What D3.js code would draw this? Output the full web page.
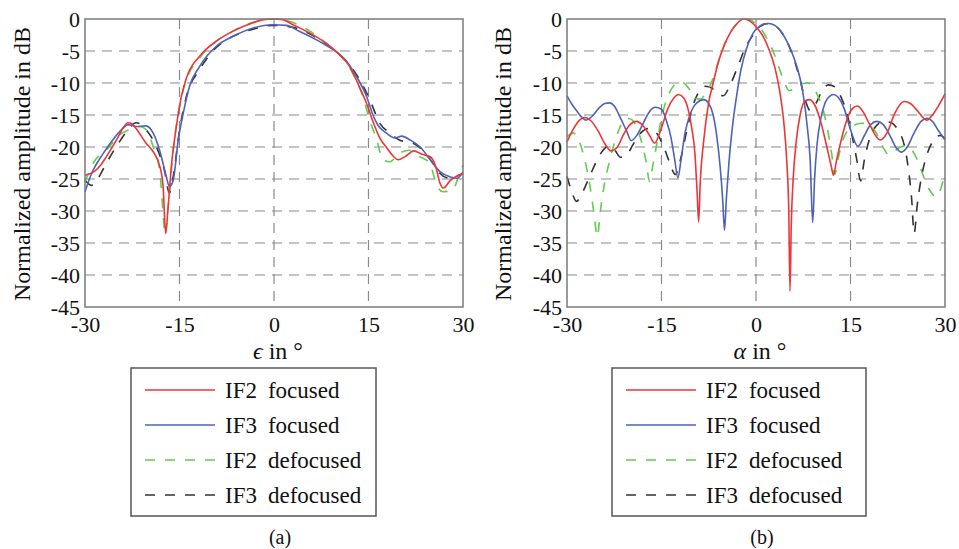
<!DOCTYPE html>
<html lang="en">
    <head>
        <meta charset="UTF-8" />
        <title>Normalized amplitude</title>
        <style>
            body { margin: 0; background: #fff; }
            svg text { fill: #111; }
        </style>
    </head>
    <body>
        <div class="chart"></div>

        <script src="https://d3js.org/d3.v7.min.js"></script>

        <script>
            // tick values shared by both panels
            const xTicks = [-30, -15, 0, 15, 30]
            const yTicks = [0, -5, -10, -15, -20, -25, -30, -35, -40, -45]

            const seriesNames = ['IF2 focused', 'IF3 focused', 'IF2 defocused', 'IF3 defocused']

            // (a) elevation cut, [angle, dB]
            const elevIF2Focused = [[-30,-24.4],[-28.5,-23.8],[-27.5,-22.8],[-26.6,-21.5],[-25,-18.9],[-23.8,-16.8],[-23.2,-16.2],[-22.5,-16.4],[-21.9,-17.1],[-20.3,-19.4],[-19.2,-20.7],[-18.1,-23.1],[-17.6,-26.2],[-17.2,-33.5],[-16.8,-29.3],[-16.3,-23.1],[-15.5,-16.8],[-14.7,-12.1],[-13.9,-9.2],[-11.8,-5.8],[-9.2,-3.5],[-6.5,-1.9],[-3.3,-0.6],[-1.7,-0.1],[0,0],[1.4,-0.1],[3,-0.9],[5.7,-2.2],[8.3,-3.8],[9.9,-5.1],[12,-7.4],[13.5,-10.5],[14.7,-13.2],[15.7,-16],[16.8,-18.6],[17.8,-20],[18.9,-21.4],[19.7,-22],[20.8,-21.5],[22.2,-20.6],[23.4,-21.1],[24.9,-21.6],[25.8,-23.5],[26.3,-25.5],[26.9,-26.4],[28,-25.2],[28.9,-24.6],[30,-24.2]]
            const elevIF3Focused = [[-30,-27],[-29.3,-25],[-28.7,-23.6],[-27.1,-21],[-25.6,-18.9],[-24,-17.1],[-23.2,-16.5],[-21.9,-16.8],[-20.3,-16.7],[-19.2,-17.8],[-18.1,-20.7],[-17.1,-24.6],[-16.6,-26.2],[-16,-25.2],[-15.2,-18.9],[-14.4,-14.7],[-13.4,-10.5],[-11.8,-7.4],[-9.2,-4.3],[-6.5,-2.7],[-3.3,-1.4],[-0.2,-0.9],[1.9,-1.0],[4,-1.9],[7.2,-3.5],[9.4,-4.8],[11.5,-6.6],[13.1,-9],[14.7,-12.1],[15.7,-15],[16.5,-16.6],[17.8,-17.8],[19.2,-18.6],[20.3,-18.3],[21.6,-18.9],[23.2,-20],[24.8,-22],[26.4,-23.9],[28,-24.7],[29.1,-24.9],[30,-23.9]]
            const elevIF2Defocused = [[-30,-25.5],[-28.7,-22.5],[-26.6,-20.5],[-24.5,-18.1],[-23,-17.3],[-21.3,-16.8],[-20.3,-17.3],[-19.2,-19.9],[-18.1,-24.1],[-17.6,-30.4],[-17.3,-33.8],[-16.8,-29.3],[-16,-20.5],[-14.9,-13.2],[-13.9,-9.5],[-11.8,-6.1],[-9.2,-3.5],[-6.5,-1.9],[-3.3,-0.5],[-0.2,0],[2.5,-0.4],[5.7,-1.9],[8.3,-3.8],[10.4,-5.6],[12.5,-8.5],[14.1,-12.1],[15.2,-15.8],[16.3,-18.9],[17.3,-22],[18.4,-22.3],[19.9,-21],[21.5,-20.5],[23.1,-21.5],[24.7,-22.5],[25.8,-25.9],[26.8,-27],[28.4,-26.7],[29.2,-24.9],[30,-22.8]]
            const elevIF3Defocused = [[-30,-25.2],[-29,-26],[-28,-25],[-26.6,-22.5],[-25,-19.9],[-23.4,-17.6],[-21.9,-16.2],[-20.3,-17.3],[-18.7,-19.9],[-17.4,-23.6],[-16.6,-27.2],[-16,-24.6],[-14.9,-16.8],[-13.9,-12.1],[-11.8,-7.9],[-9.2,-4.5],[-6.5,-2.7],[-3.3,-1.6],[-0.2,-1.0],[3,-1.3],[6.2,-2.6],[9.4,-4.8],[12,-7.2],[13.6,-9.5],[15.2,-12.6],[16.8,-16.3],[18.4,-17.8],[19.9,-18.9],[22.1,-19.4],[23.6,-20.5],[25.2,-22.5],[26.3,-24.1],[27.9,-24.9],[28.9,-24.6],[30,-24.1]]

            // (b) azimuth cut, [angle, dB]
            const azimIF2Focused = [[-30,-19.2],[-29,-17.2],[-28,-15.8],[-27.2,-15.4],[-26.2,-15.9],[-25,-17.6],[-24,-19.5],[-23,-20.6],[-22,-20],[-21,-18],[-20,-16.5],[-19,-16],[-18,-16.6],[-17,-18],[-16.1,-19.4],[-15,-17],[-14,-14],[-13,-12.3],[-12.3,-11.8],[-11.5,-12.3],[-10.8,-14],[-10.2,-17],[-9.7,-21],[-9.35,-27],[-9.1,-31.7],[-8.85,-25.5],[-8.3,-19],[-7.5,-13],[-6.8,-10],[-6,-6.8],[-5,-4],[-4,-2],[-3,-0.7],[-2,0],[-1,-0.3],[0,-1.2],[1,-2.5],[2,-4.6],[3,-7.6],[3.8,-11.5],[4.4,-16],[4.9,-22.5],[5.2,-30],[5.4,-42.5],[5.6,-32],[5.9,-25],[6.4,-19],[7,-15],[7.8,-12.8],[8.5,-12.6],[9.3,-13.4],[10.2,-15.8],[11.2,-19.8],[11.9,-22.8],[12.3,-24.4],[12.8,-22],[13.5,-19],[14.5,-15.5],[15.3,-14],[16.1,-13.6],[17,-14.5],[18,-16.4],[19.7,-18.9],[20.8,-17.8],[22,-14.8],[23.5,-12.9],[24.5,-13.2],[25.5,-14.2],[27.1,-15.8],[28,-15],[29,-13.5],[30,-11.7]]
            const azimIF3Focused = [[-30,-12],[-29.3,-13.2],[-28.5,-14.3],[-27.5,-15.5],[-27,-15.8],[-26,-15.2],[-25,-14],[-24,-13.2],[-23.2,-13.1],[-22.5,-13.6],[-21.5,-15.5],[-20.5,-17.6],[-19.8,-19],[-19,-18.3],[-18,-16.5],[-17,-14.6],[-16,-13.8],[-15,-14.1],[-14.2,-16],[-13.5,-18.5],[-12.9,-22],[-12.4,-24.8],[-11.9,-22],[-11.3,-18],[-10.5,-15],[-9.5,-13.2],[-8.3,-12.6],[-7.5,-13.2],[-6.8,-15],[-6.2,-18.5],[-5.7,-23],[-5.3,-28],[-5,-33],[-4.7,-28],[-4.3,-22.5],[-3.7,-16.5],[-3,-11.5],[-2.4,-8],[-1.5,-4.6],[-0.5,-2.3],[0.5,-1.2],[1.2,-0.8],[2,-0.7],[3,-1],[4,-2],[5,-3.7],[6,-6],[7,-9.3],[7.6,-12.5],[8.1,-16.5],[8.6,-22],[9,-31.8],[9.3,-25],[9.7,-19.5],[10.3,-15.5],[11,-13],[11.8,-12],[12.3,-11.8],[13,-12.2],[14,-14],[15,-17.3],[16.2,-19.9],[17.2,-18.2],[18.2,-16.5],[19.2,-16],[20.2,-16.5],[21.3,-18.3],[22.3,-20.2],[23.1,-20.8],[24,-20],[25,-18],[26.2,-16],[27.2,-15.5],[28,-16],[29,-17.5],[30,-18.9]]
            const azimIF2Defocused = [[-30,-18.4],[-29,-17.8],[-28.2,-18.8],[-27.3,-21.5],[-26.4,-25.8],[-25.7,-30.5],[-25.2,-34],[-24.7,-30],[-24.1,-26],[-23.2,-22],[-22.3,-18.8],[-21.4,-16.5],[-20.5,-15.5],[-19.6,-15.8],[-18.8,-17.3],[-18,-19.8],[-17.4,-22.5],[-16.9,-25.4],[-16.4,-23],[-15.8,-19.8],[-15,-15.5],[-14.2,-12.6],[-13.2,-10.6],[-12.1,-9.8],[-11.2,-10.2],[-10.4,-11.2],[-9.6,-12.4],[-8.8,-12.5],[-8,-11.6],[-7.2,-10.2],[-6.4,-8],[-5.5,-5.2],[-4.5,-3],[-3.5,-1.3],[-2.5,-0.3],[-1.5,0],[-0.8,-0.2],[0,-0.8],[0.8,-1.6],[1.7,-3],[2.7,-5],[3.5,-7.2],[4.4,-9.6],[5.3,-11.2],[6.2,-10.8],[7.3,-10.1],[8.2,-10],[9,-10.5],[9.8,-12],[10.6,-14],[11.4,-17.5],[12,-21],[12.5,-24.3],[13,-22],[13.7,-19.2],[14.7,-17.2],[15.8,-16.5],[17,-16.3],[18.1,-16.6],[19.2,-18],[20.3,-20.3],[21.1,-21.2],[22,-20.6],[23,-20],[23.8,-19.8],[24.7,-20.4],[25.6,-22],[26.6,-24.6],[27.6,-26.8],[28.6,-27.8],[29.3,-26.6],[30,-24]]
            const azimIF3Defocused = [[-30,-24.6],[-29.3,-26.8],[-28.5,-28.5],[-27.5,-27],[-26.5,-24.8],[-25.5,-22.6],[-24.5,-20.8],[-23.5,-19.9],[-22.5,-20.4],[-21.5,-21.6],[-20.5,-21.2],[-19.5,-19.6],[-18.3,-17.8],[-17,-17.1],[-15.8,-17.8],[-14.8,-19.6],[-13.8,-22.2],[-12.8,-24.3],[-12,-22],[-11,-17.5],[-10,-13.5],[-9,-11.3],[-8,-10.5],[-7,-10.8],[-6,-11.8],[-5.2,-12],[-4.1,-10.3],[-2.8,-7.2],[-1.7,-4.5],[-0.6,-2.7],[0.6,-1.2],[2,-0.7],[3,-1],[4,-2],[5,-3.7],[6,-6.2],[7,-9.5],[7.8,-12.6],[8.6,-14.3],[9.5,-13.2],[10.5,-11.2],[11.5,-10.3],[12.5,-10.6],[13.5,-12.2],[14.5,-15],[15.3,-18.5],[16,-22],[16.6,-25.3],[17.2,-22],[18,-18.8],[19,-16.8],[20.3,-16],[21.5,-16.2],[22.5,-17.3],[23.5,-19.6],[24.2,-23.5],[24.7,-28],[25.1,-33.5],[25.6,-29],[26.3,-24.5],[27.2,-21],[28.3,-18.8],[29.2,-18.2],[30,-18.6]]

            const width = 959
            const height = 549
            const plotTop = 19
            const plotBottom = 307
            const serif = '"Liberation Serif", "Times New Roman", "DejaVu Serif", serif'

            const styles = [
              { color: '#ee3535', dash: null },
              { color: '#4d62b8', dash: null },
              { color: '#62cc4e', dash: '10,10' },
              { color: '#333333', dash: '10,10' }
            ]

            const panels = [
              { left: 85, right: 463, xLabel: 'ϵ', tag: '(a)', labelX: 30, legendX: 131, legendW: 245,
                series: [elevIF2Focused, elevIF3Focused, elevIF2Defocused, elevIF3Defocused] },
              { left: 567, right: 945, xLabel: 'α', tag: '(b)', labelX: 511, legendX: 612, legendW: 254,
                series: [azimIF2Focused, azimIF3Focused, azimIF2Defocused, azimIF3Defocused] }
            ]

            const svg = d3.select('.chart')
              .append('svg')
              .attr('width', width)
              .attr('height', height)
              .attr('font-family', serif)

            const drawPanel = (p) => {
              const xScale = d3.scaleLinear().domain([-30, 30]).range([p.left, p.right])
              const yScale = d3.scaleLinear().domain([-45, 0]).range([plotBottom, plotTop])
              const g = svg.append('g')

              // dashed grid
              g.append('g')
                .selectAll('line')
                .data(yTicks.filter(d => d !== 0 && d !== -45))
                .join('line')
                .attr('x1', p.left).attr('x2', p.right)
                .attr('y1', d => yScale(d)).attr('y2', d => yScale(d))
                .attr('stroke', '#8a8a8a').attr('stroke-width', 1.2)
                .attr('stroke-dasharray', '10,7')

              g.append('g')
                .selectAll('line')
                .data(xTicks.filter(d => d !== -30 && d !== 30))
                .join('line')
                .attr('y1', plotTop).attr('y2', plotBottom)
                .attr('x1', d => xScale(d)).attr('x2', d => xScale(d))
                .attr('stroke', '#8a8a8a').attr('stroke-width', 1.2)
                .attr('stroke-dasharray', '10,7')

              const line = d3.line()
                .x(d => xScale(d[0]))
                .y(d => yScale(d[1]))
                .curve(d3.curveMonotoneX)

              // draw order: defocused under focused
              const order = [3, 2, 1, 0]
              g.append('g')
                .selectAll('path')
                .data(order)
                .join('path')
                .attr('d', i => line(p.series[i]))
                .attr('fill', 'none')
                .attr('stroke', i => styles[i].color)
                .attr('stroke-width', 1.6)
                .attr('stroke-dasharray', i => styles[i].dash)

              // frame
              g.append('rect')
                .attr('x', p.left).attr('y', plotTop)
                .attr('width', p.right - p.left).attr('height', plotBottom - plotTop)
                .attr('fill', 'none').attr('stroke', '#7a7a7a').attr('stroke-width', 1.5)

              // plain hyphen for the minus, like the original
              const fmt = d => String(d)
              const xAxis = d3.axisBottom(xScale).tickValues(xTicks).tickFormat(fmt).tickSize(0).tickPadding(9)
              const yAxis = d3.axisLeft(yScale).tickValues(yTicks).tickFormat(fmt).tickSize(0).tickPadding(5)

              const xg = g.append('g')
                .attr('transform', `translate(0, ${plotBottom})`)
                .call(xAxis)
              const yg = g.append('g')
                .attr('transform', `translate(${p.left}, 0)`)
                .call(yAxis)

              for (const ax of [xg, yg]) {
                ax.attr('font-family', serif).attr('font-size', 22)
                ax.select('.domain').remove()
                ax.selectAll('text').attr('fill', '#111')
              }

              // axis titles
              g.append('text')
                .attr('transform', `translate(${p.labelX}, ${(plotTop + plotBottom) / 2 + 1}) rotate(-90)`)
                .attr('text-anchor', 'middle')
                .attr('font-size', 24)
                .text('Normalized amplitude in dB')

              const xt = g.append('text')
                .attr('x', (p.left + p.right) / 2 + 4)
                .attr('y', 359)
                .attr('text-anchor', 'middle')
                .attr('font-size', 24)
              xt.append('tspan').style('font-style', 'italic').text(p.xLabel)
              xt.append('tspan').text(' in °')

              // legend
              const lg = g.append('g')
              lg.append('rect')
                .attr('x', p.legendX).attr('y', 368)
                .attr('width', p.legendW).attr('height', 148)
                .attr('fill', '#fff').attr('stroke', '#555').attr('stroke-width', 1.5)

              const rows = lg.selectAll('g.row')
                .data(seriesNames)
                .join('g')
                .attr('class', 'row')
                .attr('transform', (d, i) => `translate(${p.legendX}, ${390 + i * 35})`)

              rows.append('line')
                .attr('x1', 14).attr('x2', 84)
                .attr('y1', 0).attr('y2', 0)
                .attr('stroke', (d, i) => styles[i].color)
                .attr('stroke-width', 1.6)
                .attr('stroke-dasharray', (d, i) => styles[i].dash)

              const lt = rows.append('text')
                .attr('x', 94).attr('y', 8)
                .attr('font-size', 23)
              lt.append('tspan').text(d => d.split(' ')[0])
              lt.append('tspan').attr('dx', 11).text(d => d.split(' ')[1])

              g.append('text')
                .attr('x', (p.left + p.right) / 2 + 6)
                .attr('y', 544)
                .attr('text-anchor', 'middle')
                .attr('font-size', 20)
                .text(p.tag)
            }

            panels.forEach(drawPanel)
        </script>
    </body>
</html>
